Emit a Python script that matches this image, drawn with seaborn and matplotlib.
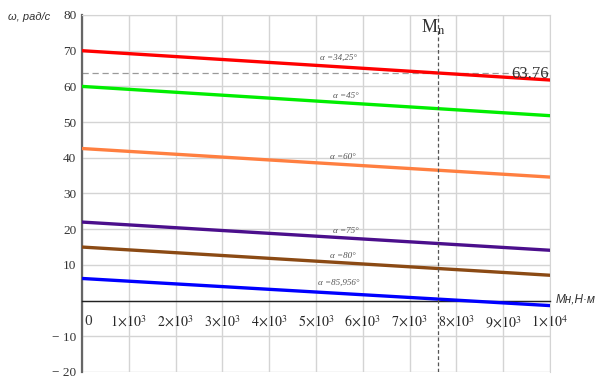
import matplotlib
matplotlib.use("Agg")
import matplotlib.pyplot as plt
import seaborn as sns
import pandas as pd

# Load torque range, N·m
torque = [0, 10000]

# Angular speed at zero and at full load torque for each angle, rad/s
alpha_labels = ["34,25", "45", "60", "75", "80", "85,956"]
omega_start = [70.0, 60.0, 42.6, 22.0, 15.0, 6.2]
omega_end = [61.79, 51.8, 34.6, 14.1, 7.1, -1.4]
line_colors = ["#ff0000", "#00ee00", "#ff7f40", "#4b0f8c", "#8b4a14", "#0000ff"]

# Label anchor points for each curve (torque, speed)
label_x = [5490, 5640, 5580, 5640, 5580, 5490]
label_y = [67.9, 57.3, 40.2, 19.5, 12.4, 4.9]

# Nominal torque and speed at that point
m_nom = 7600
omega_nom = 63.76

x_ticks = list(range(0, 10001, 1000))
x_tick_labels = ["0"] + [r"$%d\!\times\!10^{3}$" % k for k in range(1, 10)] + [r"$1\!\times\!10^{4}$"]
y_ticks = list(range(-20, 81, 10))
y_tick_labels = ["\u2212 20", "\u2212 10", ""] + [str(v) for v in range(10, 81, 10)]

rows = []
for a, s, e in zip(alpha_labels, omega_start, omega_end):
    rows.append({"M": torque[0], "omega": s, "alpha": a})
    rows.append({"M": torque[1], "omega": e, "alpha": a})
df = pd.DataFrame(rows)

sns.set_style("white")
plt.rcParams["font.family"] = ["Liberation Serif", "DejaVu Serif"]
plt.rcParams["mathtext.fontset"] = "stix"

fig = plt.figure(figsize=(5.98, 3.78), dpi=100)
ax = fig.add_axes([82 / 598, 1 - 372 / 378, (550 - 82) / 598, (372 - 15) / 378])

grid_c = "#d4d4d4"
for xv in x_ticks:
    ax.axvline(xv, color=grid_c, lw=1.0, zorder=0)
for yv in y_ticks:
    ax.axhline(yv, color=grid_c, lw=1.0, zorder=0)

sns.lineplot(data=df, x="M", y="omega", hue="alpha", palette=line_colors,
             hue_order=alpha_labels, lw=2.4, legend=False, ax=ax, zorder=3)

# Nominal point markers
ax.axhline(omega_nom, color="#9a9a9a", lw=0.9, ls=(0, (5, 3)), zorder=2)
ax.axvline(m_nom, color="#555555", lw=0.9, ls=(0, (3, 2)), zorder=4)
ax.text(9180, omega_nom - 0.4, "63.76", fontsize=12, ha="left", va="center",
        color="#333333", zorder=5)
ax.text(m_nom - 100, 76.6, r"M$_{\mathrm{n}}$", fontsize=13, ha="center",
        va="center", color="#333333", zorder=5)

for a, lx, ly in zip(alpha_labels, label_x, label_y):
    ax.text(lx, ly, "\u03b1 =%s\u00b0" % a, fontsize=6.5, style="italic",
            ha="center", va="center", color="#555555", zorder=5)

ax.set_xlim(0, 10000)
ax.set_ylim(-20, 80)
ax.set_xticks(x_ticks)
# the zero label sits right of the vertical axis, drawn separately below
ax.set_xticklabels([""] + x_tick_labels[1:], fontsize=11, color="#333333")
ax.annotate(x_tick_labels[0], xy=(x_ticks[0], 0), xycoords="data",
            xytext=(4.3, -14.8), textcoords="offset points", ha="center",
            va="center", fontsize=11, color="#333333")
ax.set_yticks(y_ticks)
ax.set_yticklabels(y_tick_labels, fontsize=9.5, color="#333333")
ax.set_xlabel("")
ax.set_ylabel("")

ax.spines["bottom"].set_position(("data", 0))
ax.spines["bottom"].set_color("#222222")
ax.spines["bottom"].set_linewidth(1.0)
ax.spines["left"].set_color("#666666")
ax.spines["left"].set_linewidth(1.6)
ax.spines["top"].set_color(grid_c)
ax.spines["right"].set_color(grid_c)
ax.tick_params(axis="x", direction="inout", length=6, width=1.0, color="#222222", pad=7)
ax.tick_params(axis="y", direction="inout", length=6, width=1.0, color="#444444", pad=1)

fig.text(8 / 598, 1 - 17 / 378, "\u03c9, рад/с", fontsize=8, style="italic",
         family=["Liberation Sans", "DejaVu Sans"], color="#333333", va="center")
fig.text(556 / 598, 1 - 300 / 378, "Мн,Н·м", fontsize=8.5, style="italic",
         family=["Liberation Sans", "DejaVu Sans"], color="#333333", va="center")

fig.savefig("out.png", dpi=100)
